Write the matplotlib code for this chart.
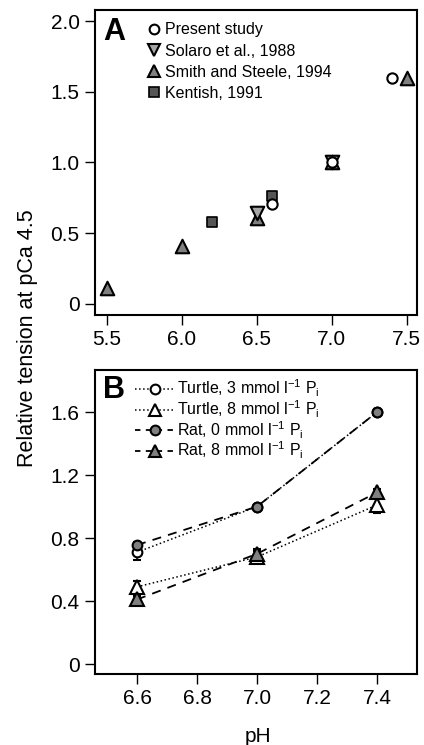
import numpy as np
import matplotlib.pyplot as plt
from matplotlib.lines import Line2D

plt.rcParams['font.family'] = ['Liberation Sans', 'DejaVu Sans']
plt.rcParams['mathtext.fontset'] = 'custom'
plt.rcParams['mathtext.rm'] = 'Liberation Sans'

# Panel A data
present_ph = [6.6, 7.0, 7.4]
present_t = [0.71, 1.0, 1.6]
solaro_ph = [6.5, 7.0]
solaro_t = [0.645, 1.0]
smith_ph = [5.5, 6.0, 6.5, 7.0, 7.5]
smith_t = [0.11, 0.41, 0.61, 1.0, 1.6]
kentish_ph = [6.2, 6.6]
kentish_t = [0.58, 0.76]

# Panel B data
ph_b = [6.6, 7.0, 7.4]
turtle3 = [0.71, 1.0, 1.6]
turtle3_err = [0.05, 0.01, 0.02]
turtle8 = [0.49, 0.68, 1.01]
turtle8_err = [0.04, 0.04, 0.05]
rat0 = [0.756, 1.0, 1.6]
rat0_err = [0.02, 0.01, 0.02]
rat8 = [0.41, 0.70, 1.09]
rat8_err = [0.02, 0.03, 0.02]

fig = plt.figure(figsize=(4.24, 7.45), dpi=100)
axA = fig.add_axes([95/424, 1-315/745, 322/424, 305/745])
axB = fig.add_axes([95/424, 1-674/745, 322/424, 304/745])

for ax in (axA, axB):
    for s in ax.spines.values():
        s.set_linewidth(1.5)
    ax.tick_params(direction='out', length=7, width=1, labelsize=15, pad=4)

# ----- A -----
axA.scatter(smith_ph, smith_t, marker='^', s=95, facecolor='#808080', edgecolor='black', linewidth=1.5, zorder=3)
axA.scatter(solaro_ph, solaro_t, marker='v', s=95, facecolor='#a6a6a6', edgecolor='black', linewidth=1.5, zorder=3)
axA.scatter(kentish_ph, kentish_t, marker='s', s=50, facecolor='#555555', edgecolor='black', linewidth=1.2, zorder=3)
axA.scatter(present_ph, present_t, marker='o', s=55, facecolor='white', edgecolor='black', linewidth=1.5, zorder=4)

axA.set_xlim(5.42, 7.57)
axA.set_ylim(-0.078, 2.078)
axA.set_xticks([5.5, 6.0, 6.5, 7.0, 7.5])
axA.set_xticklabels(['5.5', '6.0', '6.5', '7.0', '7.5'])
axA.set_yticks([0, 0.5, 1.0, 1.5, 2.0])
axA.set_yticklabels(['0', '0.5', '1.0', '1.5', '2.0'])
axA.text(0.025, (315-40)/305, 'A', transform=axA.transAxes, fontsize=22, fontweight='bold', va='baseline', ha='left')

hA = [Line2D([], [], ls='none', marker='o', ms=7, mfc='white', mec='black', mew=1.5),
      Line2D([], [], ls='none', marker='v', ms=9, mfc='#a6a6a6', mec='black', mew=1.5),
      Line2D([], [], ls='none', marker='^', ms=9, mfc='#808080', mec='black', mew=1.5),
      Line2D([], [], ls='none', marker='s', ms=7, mfc='#555555', mec='black', mew=1.2)]
axA.legend(hA, ['Present study', 'Solaro et al., 1988', 'Smith and Steele, 1994', 'Kentish, 1991'],
           loc='upper left', bbox_to_anchor=(0.142, 0.98), frameon=False, fontsize=11.5,
           handlelength=0.8, handletextpad=0.35, labelspacing=0.38, borderaxespad=0)

# ----- B -----
axB.errorbar(ph_b, turtle3, yerr=turtle3_err, ls=':', lw=1.1, color='black', marker='o', ms=7,
             mfc='white', mec='black', mew=1.5, capsize=3, zorder=3)
axB.errorbar(ph_b, turtle8, yerr=turtle8_err, ls=':', lw=1.1, color='black', marker='^', ms=9.5,
             mfc='white', mec='black', mew=1.5, capsize=3, zorder=3)
axB.errorbar(ph_b, rat0, yerr=rat0_err, ls=(0, (5, 4)), lw=1.3, color='black', marker='o', ms=7,
             mfc='#808080', mec='black', mew=1.5, capsize=3, zorder=3)
axB.errorbar(ph_b, rat8, yerr=rat8_err, ls=(0, (5, 4)), lw=1.3, color='black', marker='^', ms=9.5,
             mfc='#808080', mec='black', mew=1.5, capsize=3, zorder=3)

axB.set_xlim(6.46, 7.533)
axB.set_ylim(-0.063, 1.867)
axB.set_xticks([6.6, 6.8, 7.0, 7.2, 7.4])
axB.set_xticklabels(['6.6', '6.8', '7.0', '7.2', '7.4'])
axB.set_yticks([0, 0.4, 0.8, 1.2, 1.6])
axB.set_yticklabels(['0', '0.4', '0.8', '1.2', '1.6'])
axB.text(0.025, (674-398)/304, 'B', transform=axB.transAxes, fontsize=22, fontweight='bold', va='baseline', ha='left')

hB = [Line2D([], [], ls=':', lw=1.1, color='black', marker='o', ms=7, mfc='white', mec='black', mew=1.5),
      Line2D([], [], ls=':', lw=1.1, color='black', marker='^', ms=8.5, mfc='white', mec='black', mew=1.5),
      Line2D([], [], ls=(0, (3, 3)), lw=1.3, color='black', marker='o', ms=7, mfc='#808080', mec='black', mew=1.5),
      Line2D([], [], ls=(0, (3, 3)), lw=1.3, color='black', marker='^', ms=8.5, mfc='#808080', mec='black', mew=1.5)]
axB.legend(hB, ['Turtle, 3 mmol l$^{-1}$ P$_\\mathregular{i}$', 'Turtle, 8 mmol l$^{-1}$ P$_\\mathregular{i}$',
                'Rat, 0 mmol l$^{-1}$ P$_\\mathregular{i}$', 'Rat, 8 mmol l$^{-1}$ P$_\\mathregular{i}$'],
           loc='upper left', bbox_to_anchor=(0.104, 0.995), frameon=False, fontsize=11.5,
           handlelength=2.5, handletextpad=0.15, labelspacing=-0.05, borderaxespad=0)

fig.text(28/424, 1-338/745, 'Relative tension at pCa 4.5', rotation=90, fontsize=15.5, ha='center', va='center')
fig.text(258/424, 1-736/745, 'pH', fontsize=15, ha='center', va='center')

fig.savefig('out.png', dpi=100)
